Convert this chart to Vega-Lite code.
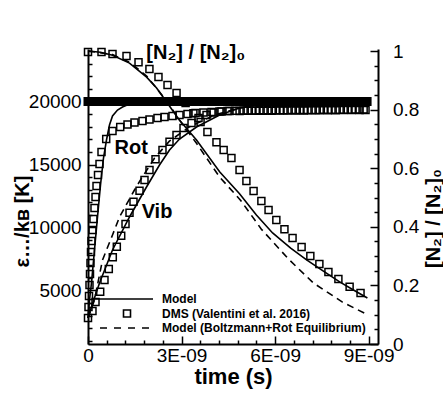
{
  "$schema": "https://vega.github.io/schema/vega-lite/v6.json",
  "width": 290,
  "height": 295,
  "autosize": {"type": "none"},
  "padding": {"left": 88, "top": 49, "right": 65, "bottom": 50},
  "background": "white",
  "config": {
    "view": {"stroke": null},
    "font": "Liberation Sans",
    "axis": {
      "grid": false,
      "domainColor": "black",
      "domainWidth": 2,
      "tickColor": "black",
      "tickWidth": 1.5,
      "labelColor": "black",
      "labelFont": "Liberation Sans",
      "labelFontSize": 19,
      "labelFlush": false,
      "labelOverlap": false,
      "titleColor": "black",
      "titleFont": "Liberation Sans",
      "titleFontWeight": "bold"
    }
  },
  "datasets": {
    "trans": [{"t": 0, "E": 20000}, {"t": 8.95e-9, "E": 20000}],
    "rot_model": [
      {"t": 0, "E": 2814}, {"t": 0.048e-9, "E": 4243}, {"t": 0.112e-9, "E": 5593}, {"t": 0.208e-9, "E": 8213},
      {"t": 0.305e-9, "E": 10833}, {"t": 0.401e-9, "E": 13373}, {"t": 0.497e-9, "E": 15517}, {"t": 0.593e-9, "E": 16946},
      {"t": 0.689e-9, "E": 18137}, {"t": 0.786e-9, "E": 18851}, {"t": 0.946e-9, "E": 19327}, {"t": 1.106e-9, "E": 19565},
      {"t": 1.331e-9, "E": 19803}, {"t": 1.555e-9, "E": 19922}, {"t": 1.97e-9, "E": 20000}, {"t": 8.95e-9, "E": 20000}
    ],
    "vib_model": [
      {"t": 0, "E": 2814}, {"t": 0.112e-9, "E": 3700}, {"t": 0.369e-9, "E": 5593}, {"t": 0.786e-9, "E": 8213},
      {"t": 1.331e-9, "E": 10833}, {"t": 1.876e-9, "E": 13214}, {"t": 2.293e-9, "E": 14961}, {"t": 2.614e-9, "E": 16152},
      {"t": 2.935e-9, "E": 17025}, {"t": 3.48e-9, "E": 17978}, {"t": 4.22e-9, "E": 18930}, {"t": 4.86e-9, "E": 19486},
      {"t": 5.82e-9, "E": 19883}, {"t": 6.78e-9, "E": 20000}, {"t": 8.95e-9, "E": 20000}
    ],
    "vib_bz": [
      {"t": 0, "E": 2814}, {"t": 0.208e-9, "E": 4243}, {"t": 0.465e-9, "E": 7419}, {"t": 0.786e-9, "E": 9404},
      {"t": 1.01e-9, "E": 10833}, {"t": 1.49e-9, "E": 12977}, {"t": 1.715e-9, "E": 13900}, {"t": 2.13e-9, "E": 15500},
      {"t": 2.61e-9, "E": 16850}, {"t": 3.26e-9, "E": 18000}, {"t": 4.06e-9, "E": 18930}, {"t": 4.86e-9, "E": 19486},
      {"t": 5.82e-9, "E": 19883}, {"t": 6.78e-9, "E": 20000}, {"t": 8.95e-9, "E": 20000}
    ],
    "dms_E": [
      {"v": "rot", "t": 0, "E": 2814}, {"v": "rot", "t": 0.016e-9, "E": 3688}, {"v": "rot", "t": 0.032e-9, "E": 4561},
      {"v": "rot", "t": 0.048e-9, "E": 5434}, {"v": "rot", "t": 0.064e-9, "E": 6308}, {"v": "rot", "t": 0.080e-9, "E": 7181},
      {"v": "rot", "t": 0.096e-9, "E": 8054}, {"v": "rot", "t": 0.112e-9, "E": 8928}, {"v": "rot", "t": 0.144e-9, "E": 9801},
      {"v": "rot", "t": 0.176e-9, "E": 10674}, {"v": "rot", "t": 0.208e-9, "E": 11547}, {"v": "rot", "t": 0.241e-9, "E": 12421},
      {"v": "rot", "t": 0.273e-9, "E": 13294}, {"v": "rot", "t": 0.321e-9, "E": 14167}, {"v": "rot", "t": 0.369e-9, "E": 15041},
      {"v": "rot", "t": 0.433e-9, "E": 15993}, {"v": "rot", "t": 0.584e-9, "E": 17025}, {"v": "rot", "t": 0.786e-9, "E": 17660},
      {"v": "rot", "t": 1.033e-9, "E": 17978}, {"v": "rot", "t": 1.267e-9, "E": 18176}, {"v": "rot", "t": 1.491e-9, "E": 18335},
      {"v": "rot", "t": 1.748e-9, "E": 18454}, {"v": "rot", "t": 1.972e-9, "E": 18573}, {"v": "rot", "t": 2.229e-9, "E": 18692},
      {"v": "rot", "t": 2.453e-9, "E": 18772}, {"v": "rot", "t": 2.710e-9, "E": 18851}, {"v": "rot", "t": 2.934e-9, "E": 18930},
      {"v": "rot", "t": 3.191e-9, "E": 19010}, {"v": "rot", "t": 3.448e-9, "E": 19089}, {"v": "rot", "t": 3.704e-9, "E": 19129},
      {"v": "rot", "t": 3.961e-9, "E": 19169}, {"v": "rot", "t": 4.217e-9, "E": 19208}, {"v": "rot", "t": 4.474e-9, "E": 19248},
      {"v": "rot", "t": 4.73e-9, "E": 19264}, {"v": "rot", "t": 4.99e-9, "E": 19280}, {"v": "rot", "t": 5.25e-9, "E": 19290},
      {"v": "rot", "t": 5.5e-9, "E": 19300}, {"v": "rot", "t": 5.76e-9, "E": 19300}, {"v": "rot", "t": 6.02e-9, "E": 19310},
      {"v": "rot", "t": 6.27e-9, "E": 19310}, {"v": "rot", "t": 6.53e-9, "E": 19320}, {"v": "rot", "t": 6.79e-9, "E": 19320},
      {"v": "rot", "t": 7.04e-9, "E": 19330}, {"v": "rot", "t": 7.3e-9, "E": 19330}, {"v": "rot", "t": 7.56e-9, "E": 19340},
      {"v": "rot", "t": 7.81e-9, "E": 19340}, {"v": "rot", "t": 8.07e-9, "E": 19350}, {"v": "rot", "t": 8.33e-9, "E": 19350},
      {"v": "rot", "t": 8.58e-9, "E": 19360}, {"v": "rot", "t": 8.84e-9, "E": 19360},
      {"v": "vib", "t": 0.144e-9, "E": 3370}, {"v": "vib", "t": 0.241e-9, "E": 4084}, {"v": "vib", "t": 0.391e-9, "E": 4902},
      {"v": "vib", "t": 0.529e-9, "E": 5831}, {"v": "vib", "t": 0.667e-9, "E": 6704}, {"v": "vib", "t": 0.795e-9, "E": 7633},
      {"v": "vib", "t": 0.924e-9, "E": 8475}, {"v": "vib", "t": 1.065e-9, "E": 9348}, {"v": "vib", "t": 1.203e-9, "E": 10277},
      {"v": "vib", "t": 1.331e-9, "E": 11174}, {"v": "vib", "t": 1.459e-9, "E": 12047}, {"v": "vib", "t": 1.652e-9, "E": 12920},
      {"v": "vib", "t": 1.812e-9, "E": 13770}, {"v": "vib", "t": 1.972e-9, "E": 14564}, {"v": "vib", "t": 2.165e-9, "E": 15413},
      {"v": "vib", "t": 2.389e-9, "E": 16152}, {"v": "vib", "t": 2.614e-9, "E": 16811}, {"v": "vib", "t": 2.838e-9, "E": 17343},
      {"v": "vib", "t": 3.063e-9, "E": 17898}, {"v": "vib", "t": 3.32e-9, "E": 18295}, {"v": "vib", "t": 3.544e-9, "E": 18692},
      {"v": "vib", "t": 3.801e-9, "E": 18930}, {"v": "vib", "t": 4.025e-9, "E": 19129}, {"v": "vib", "t": 4.281e-9, "E": 19208},
      {"v": "vib", "t": 4.538e-9, "E": 19248}, {"v": "vib", "t": 4.86e-9, "E": 19250}, {"v": "vib", "t": 5.12e-9, "E": 19260},
      {"v": "vib", "t": 5.38e-9, "E": 19260}, {"v": "vib", "t": 5.63e-9, "E": 19270}, {"v": "vib", "t": 5.89e-9, "E": 19270},
      {"v": "vib", "t": 6.15e-9, "E": 19280}, {"v": "vib", "t": 6.4e-9, "E": 19280}, {"v": "vib", "t": 6.66e-9, "E": 19290},
      {"v": "vib", "t": 6.92e-9, "E": 19290}, {"v": "vib", "t": 7.17e-9, "E": 19300}, {"v": "vib", "t": 7.43e-9, "E": 19300},
      {"v": "vib", "t": 7.69e-9, "E": 19310}, {"v": "vib", "t": 7.94e-9, "E": 19310}, {"v": "vib", "t": 8.2e-9, "E": 19320},
      {"v": "vib", "t": 8.46e-9, "E": 19320}, {"v": "vib", "t": 8.71e-9, "E": 19330}, {"v": "vib", "t": 8.9e-9, "E": 19330}
    ],
    "labels": [
      {"t": 0.85e-9, "E": 16310, "text": "Rot"},
      {"t": 1.72e-9, "E": 11230, "text": "Vib"},
      {"t": 1.87e-9, "E": 23850, "text": "[N₂] / [N₂]₀"}
    ],
    "n2_model": [
      {"t": 0, "f": 1.0}, {"t": 0.4e-9, "f": 0.996}, {"t": 0.786e-9, "f": 0.986}, {"t": 1.33e-9, "f": 0.959},
      {"t": 1.88e-9, "f": 0.911}, {"t": 2.2e-9, "f": 0.874}, {"t": 2.52e-9, "f": 0.826}, {"t": 2.93e-9, "f": 0.765},
      {"t": 3.48e-9, "f": 0.696}, {"t": 3.73e-9, "f": 0.66}, {"t": 4.22e-9, "f": 0.588}, {"t": 4.86e-9, "f": 0.513},
      {"t": 5.4e-9, "f": 0.44}, {"t": 5.92e-9, "f": 0.379}, {"t": 6.5e-9, "f": 0.327}, {"t": 7.01e-9, "f": 0.287},
      {"t": 7.5e-9, "f": 0.252}, {"t": 8.07e-9, "f": 0.212}, {"t": 8.5e-9, "f": 0.185}, {"t": 8.96e-9, "f": 0.157}
    ],
    "n2_bz": [
      {"t": 0, "f": 1.0}, {"t": 0.786e-9, "f": 0.988}, {"t": 1.33e-9, "f": 0.962}, {"t": 1.88e-9, "f": 0.915},
      {"t": 2.52e-9, "f": 0.83}, {"t": 2.93e-9, "f": 0.765}, {"t": 3.48e-9, "f": 0.685}, {"t": 4.22e-9, "f": 0.57},
      {"t": 4.89e-9, "f": 0.491}, {"t": 5.56e-9, "f": 0.392}, {"t": 6.43e-9, "f": 0.29}, {"t": 7.23e-9, "f": 0.208},
      {"t": 8.16e-9, "f": 0.143}, {"t": 8.93e-9, "f": 0.102}
    ],
    "n2_dms": [
      {"t": 0, "f": 0.997}, {"t": 0.433e-9, "f": 0.997}, {"t": 0.786e-9, "f": 0.99}, {"t": 1.235e-9, "f": 0.983},
      {"t": 1.62e-9, "f": 0.962}, {"t": 1.97e-9, "f": 0.939}, {"t": 2.26e-9, "f": 0.911}, {"t": 2.55e-9, "f": 0.884},
      {"t": 2.84e-9, "f": 0.857}, {"t": 3.13e-9, "f": 0.823}, {"t": 3.38e-9, "f": 0.788}, {"t": 3.61e-9, "f": 0.758},
      {"t": 3.83e-9, "f": 0.724}, {"t": 4.12e-9, "f": 0.689}, {"t": 4.35e-9, "f": 0.662}, {"t": 4.6e-9, "f": 0.635},
      {"t": 4.86e-9, "f": 0.594}, {"t": 5.08e-9, "f": 0.556}, {"t": 5.31e-9, "f": 0.522}, {"t": 5.56e-9, "f": 0.488},
      {"t": 5.79e-9, "f": 0.457}, {"t": 6.04e-9, "f": 0.423}, {"t": 6.3e-9, "f": 0.392}, {"t": 6.56e-9, "f": 0.362},
      {"t": 6.85e-9, "f": 0.331}, {"t": 7.13e-9, "f": 0.3}, {"t": 7.42e-9, "f": 0.273}, {"t": 7.71e-9, "f": 0.246},
      {"t": 8.03e-9, "f": 0.222}, {"t": 8.39e-9, "f": 0.195}, {"t": 8.74e-9, "f": 0.174}
    ]
  },
  "encoding": {
    "x": {
      "field": "t",
      "type": "quantitative",
      "scale": {"domain": [0, 9.3e-9], "nice": false, "zero": false},
      "axis": {
        "title": "time (s)",
        "titleFontSize": 22,
        "titleX": 145,
        "titleY": 39,
        "titleBaseline": "alphabetic",
        "values": [0, 6e-10, 1.2e-9, 1.8e-9, 2.4e-9, 3e-9, 3.6e-9, 4.2e-9, 4.8e-9, 5.4e-9, 6e-9, 6.6e-9, 7.2e-9, 7.8e-9, 8.4e-9, 9e-9],
        "labelExpr": "round(datum.value*1e10) % 30 == 0 ? (datum.value == 0 ? '0' : round(datum.value*1e9) + 'E-09') : ''",
        "tickSize": {"condition": {"test": "round(datum.value*1e10) % 30 == 0", "value": -8}, "value": -4},
        "labelPadding": 10
      }
    }
  },
  "layer": [
    {
      "encoding": {
        "y": {
          "field": "E",
          "type": "quantitative",
          "scale": {"domain": [750, 24170], "nice": false, "zero": false},
          "axis": {
            "orient": "left",
            "title": "ε…/kʙ [K]",
            "titleFontSize": 20,
            "titleAngle": 270,
            "titleX": -66,
            "titleY": 172,
            "titleAlign": "center",
            "titleBaseline": "middle",
            "values": [1000, 2000, 3000, 4000, 5000, 6000, 7000, 8000, 9000, 10000, 11000, 12000, 13000, 14000, 15000, 16000, 17000, 18000, 19000, 20000, 21000, 22000, 23000, 24000],
            "labelExpr": "datum.value % 5000 == 0 ? format(datum.value, 'd') : ''",
            "tickSize": {"condition": {"test": "datum.value % 5000 == 0", "value": -8}, "value": -4},
            "labelPadding": 14.8
          }
        }
      },
      "layer": [
        {"data": {"name": "trans"}, "mark": {"type": "line", "color": "black", "strokeWidth": 9, "strokeCap": "square"}},
        {"data": {"name": "rot_model"}, "mark": {"type": "line", "color": "black", "strokeWidth": 1.6}},
        {"data": {"name": "vib_model"}, "mark": {"type": "line", "color": "black", "strokeWidth": 1.6}},
        {"data": {"name": "vib_bz"}, "mark": {"type": "line", "color": "black", "strokeWidth": 1.6, "strokeDash": [7, 5]}},
        {
          "data": {"name": "dms_E"},
          "mark": {"type": "point", "filled": false, "size": 4, "strokeWidth": 1.5, "color": "black", "opacity": 1},
          "encoding": {
            "detail": {"field": "v", "type": "nominal"},
            "shape": {
              "datum": "DMS (Valentini et al. 2016)",
              "type": "nominal",
              "scale": {
                "domain": ["Model", "DMS (Valentini et al. 2016)", "Model (Boltzmann+Rot Equilibrium)"],
                "range": ["M-34,0H26", "M-34,0M26,0M-3.5,-3.5H3.5V3.5H-3.5Z", "M-34,0M26,0M-27,0H-20M-13,0H-6M1,0H8M15,0H22"]
              },
              "legend": {
                "title": null,
                "orient": "none",
                "legendX": 33,
                "legendY": 244,
                "padding": 0,
                "labelFont": "Liberation Sans",
                "labelFontSize": 12,
                "labelFontWeight": "bold",
                "labelColor": "black",
                "labelLimit": 400,
                "labelOffset": 29,
                "symbolSize": 4,
                "symbolStrokeWidth": 1.6,
                "symbolStrokeColor": "black",
                "symbolFillColor": "transparent",
                "rowPadding": 1.5
              }
            }
          }
        },
        {
          "data": {"name": "labels"},
          "mark": {"type": "text", "font": "Liberation Sans", "fontWeight": "bold", "fontSize": 20, "align": "left", "baseline": "middle", "color": "black"},
          "encoding": {"text": {"field": "text"}}
        }
      ]
    },
    {
      "encoding": {
        "y": {
          "field": "f",
          "type": "quantitative",
          "scale": {"domain": [0, 1.007], "nice": false, "zero": false},
          "axis": {
            "orient": "right",
            "title": "[N₂] / [N₂]₀",
            "titleFontSize": 20,
            "titleAngle": 270,
            "titleX": 55,
            "titleY": 169,
            "titleAlign": "center",
            "titleBaseline": "middle",
            "values": [0, 0.05, 0.1, 0.15, 0.2, 0.25, 0.3, 0.35, 0.4, 0.45, 0.5, 0.55, 0.6, 0.65, 0.7, 0.75, 0.8, 0.85, 0.9, 0.95, 1],
            "labelExpr": "round(datum.value*100) % 20 == 0 ? format(datum.value, '~g') : ''",
            "tickSize": {"condition": {"test": "round(datum.value*100) % 20 == 0", "value": -8}, "value": -4},
            "labelPadding": 22.5
          }
        }
      },
      "layer": [
        {"data": {"name": "n2_model"}, "mark": {"type": "line", "color": "black", "strokeWidth": 1.6}},
        {"data": {"name": "n2_bz"}, "mark": {"type": "line", "color": "black", "strokeWidth": 1.6, "strokeDash": [7, 5]}},
        {
          "data": {"name": "n2_dms"},
          "mark": {"type": "point", "filled": false, "size": 4, "strokeWidth": 1.5, "color": "black", "opacity": 1},
          "encoding": {
            "shape": {
              "datum": "DMS (Valentini et al. 2016)",
              "type": "nominal",
              "scale": {
                "domain": ["Model", "DMS (Valentini et al. 2016)", "Model (Boltzmann+Rot Equilibrium)"],
                "range": ["M-34,0H26", "M-34,0M26,0M-3.5,-3.5H3.5V3.5H-3.5Z", "M-34,0M26,0M-27,0H-20M-13,0H-6M1,0H8M15,0H22"]
              },
              "legend": {
                "title": null,
                "orient": "none",
                "legendX": 33,
                "legendY": 244,
                "padding": 0,
                "labelFont": "Liberation Sans",
                "labelFontSize": 12,
                "labelFontWeight": "bold",
                "labelColor": "black",
                "labelLimit": 400,
                "labelOffset": 29,
                "symbolSize": 4,
                "symbolStrokeWidth": 1.6,
                "symbolStrokeColor": "black",
                "symbolFillColor": "transparent",
                "rowPadding": 1.5
              }
            }
          }
        }
      ]
    }
  ],
  "resolve": {"scale": {"y": "independent"}}
}
